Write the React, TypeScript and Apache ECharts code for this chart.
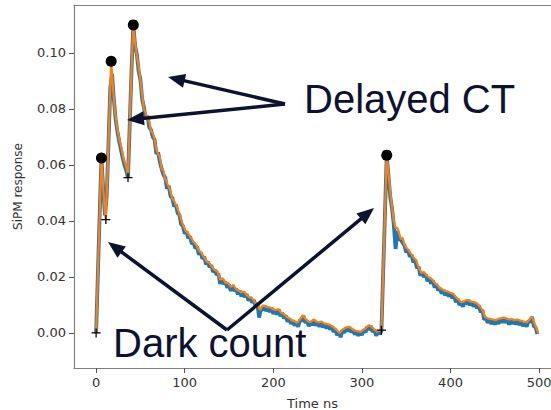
import React, { useEffect, useRef } from "react";
import * as echarts from "echarts";

const xTicks = [0, 100, 200, 300, 400, 500];
const yTicks = [0, 0.02, 0.04, 0.06, 0.08, 0.1];

// filtered (orange) waveform, [time ns, response]
const smoothSignal: [number, number][] = [
  [0,0],[2,0.021],[4,0.042],[6,0.0625],[8,0.052],[10,0.043],[11,0.0405],[13,0.058],[15,0.078],[17,0.097],[19,0.088],[21,0.080],[23,0.075],[25,0.071],[27,0.068],[29,0.0655],[31,0.062],[33,0.0605],[35,0.058],[36,0.0565],[38,0.075],[40,0.094],[42,0.110],[44,0.1035],[46,0.099],[48,0.095],[50,0.0905],[52,0.085],[54,0.080],[56,0.0785],[58,0.0765],[60,0.0755],[62,0.072],[64,0.0715],[66,0.069],[68,0.0655],[70,0.064],[72,0.0625],[74,0.0585],[76,0.058],[78,0.055],[80,0.0535],[83,0.0515],[86,0.048],[89,0.0465],[92,0.0445],[95,0.0415],[98,0.0385],[101,0.0365],[104,0.0355],[107,0.034],[110,0.0325],[113,0.0315],[116,0.0295],[119,0.0285],[122,0.027],[125,0.0255],[128,0.025],[131,0.0235],[134,0.0225],[137,0.022],[140,0.019],[143,0.0195],[146,0.018],[149,0.0178],[152,0.0165],[155,0.0172],[158,0.0155],[161,0.0152],[164,0.0145],[167,0.0148],[170,0.0135],[173,0.0128],[176,0.0125],[179,0.011],[182,0.0105],[185,0.0082],[188,0.0098],[191,0.0095],[194,0.0092],[197,0.009],[200,0.0085],[203,0.0082],[206,0.0085],[209,0.0072],[212,0.0068],[215,0.0058],[218,0.0052],[221,0.0045],[224,0.0042],[227,0.0036],[230,0.0048],[233,0.0063],[236,0.0052],[239,0.0042],[242,0.0038],[245,0.0048],[248,0.0042],[251,0.0038],[254,0.0041],[257,0.0035],[260,0.0032],[263,0.003],[266,0.0025],[269,0.0018],[272,0.0008],[275,0.0],[278,0.0012],[281,0.0018],[284,0.0022],[287,0.002],[290,0.0012],[293,0.0008],[296,0.0006],[299,0.0005],[302,0.0012],[305,0.002],[308,0.0028],[311,0.0022],[314,0.0012],[317,0.0005],[320,0.0008],[322,0.001],[325,0.032],[328,0.0635],[330,0.057],[332,0.05],[334,0.045],[336,0.04],[338,0.0375],[340,0.0375],[342,0.0355],[344,0.0335],[346,0.034],[348,0.0315],[350,0.0305],[352,0.0298],[355,0.0285],[358,0.027],[361,0.026],[364,0.0235],[367,0.0215],[370,0.0218],[373,0.0205],[376,0.0198],[379,0.0192],[382,0.018],[385,0.0172],[388,0.016],[391,0.0155],[394,0.015],[397,0.0148],[400,0.0143],[403,0.014],[406,0.0128],[409,0.012],[412,0.011],[415,0.0112],[418,0.0118],[421,0.0115],[424,0.0112],[427,0.011],[430,0.0105],[433,0.0095],[436,0.0082],[439,0.0058],[442,0.0052],[445,0.005],[448,0.0048],[451,0.0046],[454,0.005],[457,0.0052],[460,0.0055],[463,0.0052],[466,0.0048],[469,0.005],[472,0.0046],[475,0.0048],[478,0.0045],[481,0.0042],[484,0.0039],[487,0.004],[490,0.0052],[492,0.0057],[494,0.004],[496,0.0025],[499,0.0]
];

// raw (blue) waveform, sampled every 2 ns starting at 0 ns
const rawStepNs = 2;
const rawValues: number[] = [
  0, 0.021, 0.042, 0.0625, 0.0515, 0.042, 0.049, 0.068, 0.0875, 0.0925, 0.0835, 0.0765, 0.072, 0.0685, 0.0655, 0.0625, 0.06, 0.058, 0.0555, 0.075, 0.094, 0.11,
  0.1025, 0.0995, 0.0935, 0.0905, 0.0835, 0.0805, 0.0765, 0.0775, 0.0735, 0.0725, 0.07, 0.069, 0.064, 0.0645, 0.061, 0.0585, 0.0565, 0.0555, 0.0515,
  0.0525, 0.0488, 0.0482, 0.0452, 0.0458, 0.0428, 0.0422, 0.0388, 0.0382, 0.0355, 0.0362, 0.0338, 0.0345, 0.0318, 0.0322, 0.0302, 0.0308, 0.028, 0.0288, 0.0265, 0.0272, 0.0245, 0.0255, 0.0235, 0.0242, 0.0218, 0.0225, 0.0208, 0.0212, 0.0175,
  0.0195, 0.0175, 0.0182, 0.0162, 0.0172, 0.015, 0.0168, 0.015, 0.0158, 0.0138, 0.0152, 0.013, 0.0148, 0.0128, 0.0138, 0.0115, 0.0128, 0.0108, 0.0118, 0.0095, 0.0105, 0.0055, 0.0085, 0.0082, 0.0098, 0.0078, 0.0092, 0.0075, 0.009, 0.0068,
  0.0082, 0.0066, 0.0084, 0.006, 0.0072, 0.0052, 0.0062, 0.004, 0.0052, 0.0032, 0.0045, 0.0026, 0.0038, 0.0022, 0.0046, 0.0042, 0.0062, 0.0036, 0.0044, 0.0024, 0.0038, 0.0028, 0.0046, 0.0026, 0.004, 0.0022, 0.004, 0.002, 0.0034, 0.0016,
  0.003, 0.0012, 0.0024, 0.0004, 0.0014, -0.0008, 0.0002, -0.0015, 0.001, 0.0, 0.0018, 0.0006, 0.002, 0.0002, 0.0012, -0.0006, 0.0006, -0.001, 0.0004, -0.0008, 0.0012, 0.0002, 0.0022, 0.0012, 0.0026, 0.0004, 0.0012, -0.001, 0.0004, -0.0004,
  0.0006, 0.0217, 0.0425, 0.0635, 0.056, 0.0485, 0.0445, 0.0385, 0.03, 0.0365, 0.0338, 0.0332, 0.0322, 0.0312, 0.0288, 0.0296, 0.0272, 0.028, 0.0252, 0.0262, 0.0232, 0.0236, 0.0205, 0.0216, 0.02, 0.021, 0.0185, 0.0196, 0.0176, 0.0188,
  0.0162, 0.0174, 0.0152, 0.016, 0.014, 0.0154, 0.0134, 0.0148, 0.013, 0.0142, 0.0124, 0.0134, 0.011, 0.0122, 0.01, 0.0108, 0.0094, 0.0114, 0.0102, 0.0118, 0.0098, 0.0112, 0.0094, 0.0108, 0.0088, 0.0098, 0.0074, 0.0082, 0.0048, 0.0054,
  0.0036, 0.005, 0.0032, 0.0048, 0.003, 0.0046, 0.0032, 0.0052, 0.0036, 0.0054, 0.0036, 0.005, 0.003, 0.0048, 0.0032, 0.0046, 0.003, 0.0046, 0.0028, 0.0042, 0.0024, 0.0038, 0.0022, 0.0044, 0.0038, 0.0058, 0.0024, 0.002, -0.0004
];

const peakPoints: [number, number][] = [[6, 0.0625], [17, 0.097], [42, 0.11], [328, 0.0635]];
const startPoints: [number, number][] = [[0, 0], [11, 0.0405], [36, 0.0555], [322, 0.001]];

const NAVY = "#0c1230";

function arrow(sx: number, sy: number, tx: number, ty: number) {
  const dx = tx - sx, dy = ty - sy;
  const len = Math.hypot(dx, dy);
  const ux = dx / len, uy = dy / len;
  const hl = 17, hw = 7;
  const bx = tx - ux * hl, by = ty - uy * hl;
  const px = -uy, py = ux;
  return [
    {
      type: "line",
      shape: { x1: sx, y1: sy, x2: bx + ux * 2, y2: by + uy * 2 },
      style: { stroke: NAVY, lineWidth: 3.5 },
      z: 100,
    },
    {
      type: "polygon",
      shape: { points: [[tx, ty], [bx + px * hw, by + py * hw], [bx - px * hw, by - py * hw]] },
      style: { fill: NAVY },
      z: 100,
    },
  ];
}

export default function App() {
  const ref = useRef<HTMLDivElement>(null);
  useEffect(() => {
    if (!ref.current) return;
    const chart = echarts.init(ref.current, null, { renderer: "svg" });
    const axisFont = { fontFamily: "DejaVu Sans", fontSize: 13, color: "#333333" };
    const rawSignal = rawValues.map((v, i) => [i * rawStepNs, v]);
    chart.setOption({
      animation: false,
      backgroundColor: "#ffffff",
      grid: { left: 74, top: 5, right: 0, bottom: 42, show: false, containLabel: false, outerBoundsMode: "none" },
      xAxis: [
        {
          type: "value", min: -24.95, max: 513.4,
          splitLine: { show: false },
          axisLine: { show: true, onZero: false, lineStyle: { color: "#808080", width: 1.2 } },
          axisTick: { show: true, length: 5, customValues: xTicks, lineStyle: { color: "#555" } },
          axisLabel: { ...axisFont, customValues: xTicks, margin: 8 },
          name: "Time ns", nameLocation: "middle", nameGap: 29,
          nameTextStyle: { fontFamily: "DejaVu Sans", fontSize: 13, color: "#333333" },
        },
        {
          type: "value", min: -24.95, max: 513.4, position: "top",
          splitLine: { show: false },
          axisLine: { show: true, onZero: false, lineStyle: { color: "#808080", width: 1.2 } },
          axisTick: { show: false }, axisLabel: { show: false },
        },
      ],
      yAxis: {
        type: "value", min: -0.0125, max: 0.1171,
        splitLine: { show: false },
        axisLine: { show: true, onZero: false, lineStyle: { color: "#808080", width: 1.2 } },
        axisTick: { show: true, length: 5, customValues: yTicks, lineStyle: { color: "#555" } },
        axisLabel: { ...axisFont, customValues: yTicks, margin: 8, formatter: (v: number) => v.toFixed(2) },
        name: "SiPM response", nameLocation: "middle", nameGap: 50,
        nameTextStyle: { fontFamily: "DejaVu Sans", fontSize: 12, color: "#333333" },
      },
      series: [
        {
          type: "line", data: rawSignal, showSymbol: false, symbol: "none",
          lineStyle: { color: "#1f77b4", width: 3.8 }, z: 2,
        },
        {
          type: "line", data: smoothSignal, showSymbol: false, symbol: "none",
          lineStyle: { color: "#ff7f0e", width: 2.2 }, z: 3,
        },
        {
          type: "scatter", data: peakPoints, symbol: "circle", symbolSize: 11,
          itemStyle: { color: "#000000", opacity: 1 }, z: 5,
        },
        {
          type: "scatter", data: startPoints,
          symbol: "path://M0,4.3H10V5.7H0Z M4.3,0H5.7V10H4.3Z", symbolSize: 9,
          itemStyle: { color: "#000000", opacity: 1 }, z: 5,
        },
      ],
      graphic: [
        ...arrow(285, 104, 168, 77),
        ...arrow(285, 104, 127, 120),
        ...arrow(227, 330, 108, 242),
        ...arrow(227, 330, 374, 208),
        {
          type: "text", x: 304, y: 99, z: 101,
          style: { text: "Delayed CT", fill: NAVY, font: "40px 'Liberation Sans', Arial, sans-serif", verticalAlign: "middle", align: "left" },
        },
        {
          type: "text", x: 113, y: 343, z: 101,
          style: { text: "Dark count", fill: NAVY, font: "40px 'Liberation Sans', Arial, sans-serif", verticalAlign: "middle", align: "left" },
        },
      ],
    });
    return () => chart.dispose();
  }, []);
  return <div ref={ref} style={{ position: "fixed", left: 0, top: 0, width: 551, height: 410 }} />;
}
